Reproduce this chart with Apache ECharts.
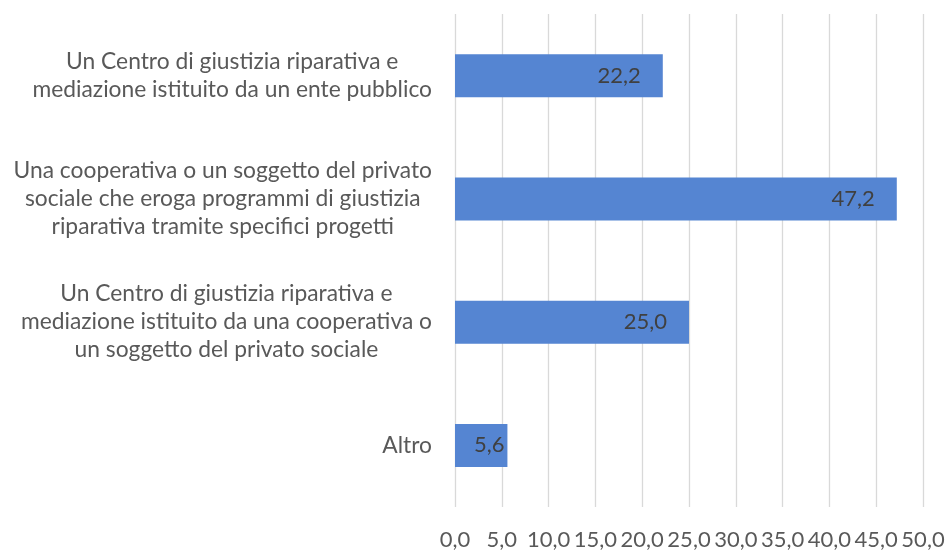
<!DOCTYPE html>
<html>
<head>
<meta charset="utf-8">
<script src="https://cdn.jsdelivr.net/npm/echarts@6/dist/echarts.min.js"></script>
<style>
  html, body { margin: 0; padding: 0; background: #fff; }
  #chart { width: 948px; height: 551px; }
</style>
</head>
<body>
<div id="chart"></div>
<script>
// categorie (dall'alto in basso) e percentuali
var categorie = [
	'Un Centro di giustizia riparativa e\nmediazione istituito da un ente pubblico',
	'Una cooperativa o un soggetto del privato\nsociale che eroga programmi di giustizia\nriparativa tramite specifici progetti',
	'Un Centro di giustizia riparativa e\nmediazione istituito da una cooperativa o\nun soggetto del privato sociale',
	'Altro'
];
var valori = [22.2, 47.2, 25.0, 5.6];
var tickMin = 0, tickMax = 50, tickStep = 5;

function virgola(v){
	return v.toFixed(1).replace('.', ',');
}

var chart = echarts.init(document.getElementById('chart'));

var dati = [];
for (var i = 0; i < valori.length; i++) {
	// barre corte: etichetta quasi attaccata al bordo
	dati.push({
		value: valori[i],
		label: { distance: valori[i] < 8 ? 3 : 22 }
	});
}

var option = {
	animation: false,
	textStyle: { fontFamily: 'Lato' },
	grid: { left: 455, right: 25, top: 14, bottom: 44, containLabel: false },
	xAxis: {
		type: 'value',
		min: tickMin,
		max: tickMax,
		interval: tickStep,
		axisLine: { show: false },
		axisTick: { show: false },
		splitLine: { lineStyle: { color: '#d9d9d9', width: 1.3 } },
		axisLabel: {
			margin: 22,
			fontSize: 22,
			color: '#595959',
			fontFamily: 'Lato',
			formatter: function(v){ return virgola(v); }
		}
	},
	yAxis: {
		type: 'category',
		inverse: true,
		data: categorie,
		axisLine: { show: false },
		axisTick: { show: false },
		axisLabel: {
			margin: 23,
			formatter: function(v){
				return v.split('\n').map(function(r){ return '{c|' + r + '}'; }).join('\n');
			},
			rich: {
				c: {
					align: 'center',
					fontSize: 22.8,
					lineHeight: 28,
					color: '#595959',
					fontFamily: 'Lato'
				}
			}
		}
	},
	series: [
		{
			type: 'bar',
			data: dati,
			barWidth: 43,
			itemStyle: { color: '#5585d2' },
			label: {
				show: true,
				position: 'insideRight',
				fontSize: 22,
				color: '#404040',
				fontFamily: 'Lato',
				formatter: function(p){ return virgola(p.value); }
			}
		}
	]
};
chart.setOption(option);
</script>
</body>
</html>
